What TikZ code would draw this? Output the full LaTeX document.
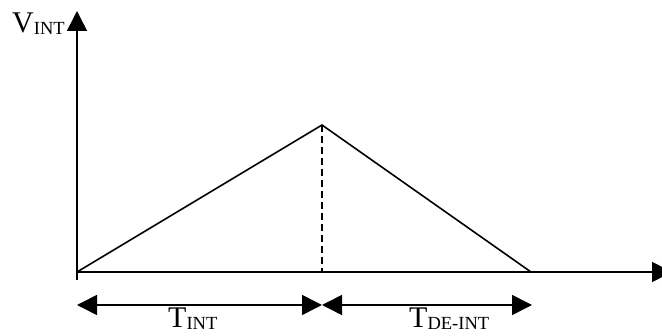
\documentclass[tikz,border=0pt]{standalone}
\usepackage{fontspec}
\setmainfont{Liberation Serif}
\usetikzlibrary{arrows.meta}
\newcommand{\subtxt}[1]{{\fontsize{18.5}{18.5}\selectfont\raisebox{-1.5pt}{#1}}}
\tikzset{
  ln/.style={line width=1.6pt},
  bigtip/.style={-{Triangle[length=20pt,width=20pt]}},
  dimarrow/.style={line width=1.6pt,{Triangle[length=20pt,width=20pt]}-{Triangle[length=20pt,width=20pt]}},
  lbl/.style={inner sep=0pt,font=\fontsize{30}{30}\selectfont}
}
\begin{document}
\begin{tikzpicture}[x=1pt,y=-1pt]
\useasboundingbox (0,0) rectangle (662,336);
\coordinate (o) at (77,272);
\coordinate (ybot) at (77,280);
\coordinate (ytop) at (77,11);
\coordinate (xend) at (672,272);
\coordinate (peak) at (322,125);
\coordinate (pfoot) at (322,272);
\coordinate (endp) at (531,272);
\coordinate (a1) at (77,305);
\coordinate (a2) at (322,305);
\coordinate (a3) at (532,305);
\draw[ln,bigtip] (ybot) -- (ytop);
\draw[ln,bigtip] (o) -- (xend);
\draw[ln] (o) -- (peak) -- (endp);
\draw[ln,dash pattern=on 7pt off 4pt] (peak) -- (pfoot);
\draw[dimarrow] (a1) -- (a2);
\draw[dimarrow] (a2) -- (a3);
\node[lbl,anchor=base west] (v) at (12,33) {V\subtxt{INT}};
\node[lbl,anchor=base west] (t1) at (168,328) {T\subtxt{INT}};
\node[lbl,anchor=base west] (t2) at (409,328) {T\subtxt{DE-INT}};
\end{tikzpicture}
\end{document}
